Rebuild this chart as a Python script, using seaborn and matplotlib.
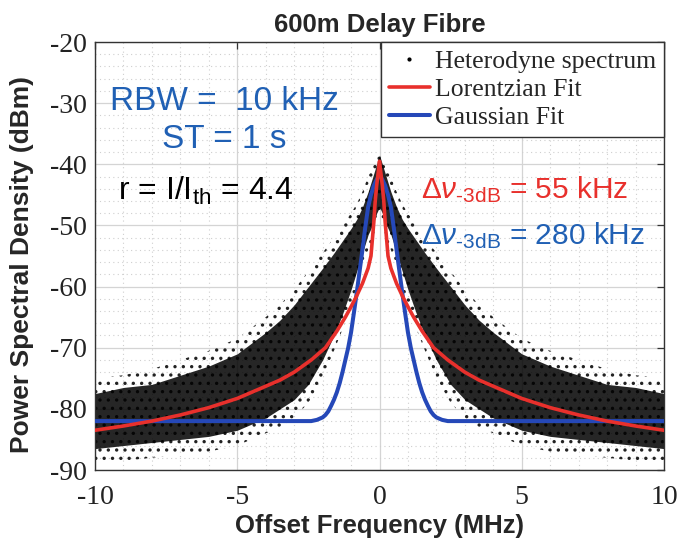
import matplotlib
matplotlib.use("Agg")
import matplotlib.pyplot as plt
import numpy as np
import seaborn as sns
from matplotlib.lines import Line2D
from matplotlib.ticker import MultipleLocator

# values, positive offsets only (trace is symmetric)
cloud_x = [0, 0.1, 0.2, 0.3, 0.4, 0.6, 0.8, 1.0, 1.3, 1.6, 2.0, 2.5, 3.0, 3.5, 4.0, 5.0, 6.0, 7.0, 8.0, 9.0, 10]
cloud_hi = [-38.5, -40, -41.5, -43, -44.5, -47, -49, -50.5, -52.5, -54.5, -57, -60, -63, -65.5, -67.5, -71, -73, -74.5, -76, -76.5, -77.5]
cloud_lo = [-47, -48, -49.5, -50.5, -51.5, -54.5, -57.5, -60.5, -64.5, -68, -72, -76, -78.5, -80, -81.5, -83.5, -84.5, -85, -85.5, -86, -86.5]
sparse_hi = [-37, -38.5, -40, -41, -42, -44.5, -46.5, -48, -50, -52, -54.5, -57.5, -60.5, -63, -65, -68.5, -70.5, -72, -73.5, -74.5, -75]
sparse_lo = [-49, -50, -51.5, -53, -54, -57, -60, -63, -67, -70.5, -75, -79, -81.5, -83, -84, -86, -87, -87.5, -88, -88.5, -89]

lor_x = [0, 0.05, 0.1, 0.15, 0.2, 0.3, 0.4, 0.6, 0.8, 1.0, 1.2, 1.5, 1.9, 2.4, 3.0, 3.5, 4.0, 5.0, 6.0, 7.0, 7.5, 8.0, 9.0, 10]
lor_y = [-39.5, -41.5, -43.5, -46, -49.5, -55, -57, -59.5, -61.5, -63.3, -65, -67.3, -70, -72, -74, -75.3, -76.3, -78.3, -79.8, -81, -81.5, -82, -82.8, -83.5]

gau_x = [0, 0.1, 0.2, 0.3, 0.4, 0.5, 0.6, 0.7, 0.8, 0.9, 1.0, 1.1, 1.2, 1.3, 1.4, 1.5, 1.6, 1.7, 1.8, 1.9, 2.0, 2.2, 2.4, 3, 10]
gau_y = [-41.8, -42.5, -43.5, -45, -47, -50.3, -54, -57.5, -61, -64.3, -67.5, -70, -72, -74, -75.8, -77.3, -78.5, -79.5, -80.4, -81, -81.4, -81.8, -82, -82, -82]

x_ticks = [-10, -5, 0, 5, 10]
y_ticks = [-90, -80, -70, -60, -50, -40, -30, -20]


def mirror(x, y):
    x = np.asarray(x, float)
    y = np.asarray(y, float)
    return np.concatenate([-x[::-1], x[1:]]), np.concatenate([y[::-1], y[1:]])


sns.set_theme(style="white")
plt.rcParams["font.family"] = ["Liberation Sans", "DejaVu Sans"]
plt.rcParams["mathtext.fontset"] = "custom"
plt.rcParams["mathtext.rm"] = "Liberation Sans"
plt.rcParams["mathtext.it"] = "Liberation Sans:italic"
plt.rcParams["mathtext.bf"] = "Liberation Sans:bold"
plt.rcParams["axes.unicode_minus"] = False
plt.rcParams["hatch.linewidth"] = 1.2

red = "#e8302c"
blue = "#2548b8"
txt_blue = "#2060b4"

fig = plt.figure(figsize=(6.96, 5.46), dpi=100)
ax = fig.add_axes([95 / 696, 1 - 470 / 546, (664 - 95) / 696, (470 - 42) / 546])

cx, chi = mirror(cloud_x, cloud_hi)
_, clo = mirror(cloud_x, cloud_lo)
_, shi = mirror(cloud_x, sparse_hi)
_, slo = mirror(cloud_x, sparse_lo)
ax.fill_between(cx, slo, shi, facecolor="none", edgecolor="#222222", hatch="..", lw=0, zorder=2)
ax.fill_between(cx, clo, chi, color="black", alpha=0.85, lw=0, zorder=2)

lx, ly = mirror(lor_x, lor_y)
gx, gy = mirror(gau_x, gau_y)
sns.lineplot(x=lx, y=ly, ax=ax, color=red, lw=2.6, zorder=4, legend=False)
sns.lineplot(x=gx, y=gy, ax=ax, color=blue, lw=2.9, zorder=3, legend=False)

ax.set_xlim(-10, 10)
ax.set_ylim(-90, -20)
ax.set_xticks(x_ticks)
ax.set_yticks(y_ticks)
ax.xaxis.set_minor_locator(MultipleLocator(1))
ax.yaxis.set_minor_locator(MultipleLocator(2))
ax.grid(which="major", color="#d4d4d4", lw=0.9, zorder=0)
ax.grid(which="minor", color="#cfcfcf", lw=0.8, ls=(0, (1, 3)), zorder=0)
ax.set_axisbelow(True)
ax.tick_params(which="major", direction="in", length=5, width=0.9, color="#333333",
               top=True, right=True, labelsize=20)
ax.tick_params(axis="x", which="major", pad=11)
ax.tick_params(axis="y", which="major", pad=6)
ax.tick_params(which="minor", length=0)
for lab in ax.get_xticklabels() + ax.get_yticklabels():
    lab.set_family("Liberation Serif")
    lab.set_color("#222222")
for sp in ax.spines.values():
    sp.set_color("#333333")
    sp.set_linewidth(1.0)

ax.set_title("600m Delay Fibre", fontsize=18.5, fontweight="bold", pad=7)
ax.set_xlabel("Offset Frequency (MHz)", fontsize=18.5, fontweight="bold")
ax.set_ylabel("Power Spectral Density (dBm)", fontsize=19, fontweight="bold")
ax.xaxis.set_label_coords(0.5, -0.103)
ax.yaxis.set_label_coords(-0.107, 0.48)

hy = "\u2010"
ax.text(-5.45, -31.1, "RBW =  10 kHz", color=txt_blue, fontsize=24, ha="center", va="baseline")
ax.text(-5.45, -37.3, "ST = 1 s", color=txt_blue, fontsize=24, ha="center", va="baseline")
ax.text(-9.2, -45.8, r"r = I/I$_{\mathrm{th}}$ = 4.4", color="black", fontsize=23, ha="left", va="baseline")
ax.text(1.45, -45.5, r"$\Delta\nu_{\mathrm{" + hy + r"3dB}}$ = 55 kHz", color=red, fontsize=21.5,
        ha="left", va="baseline")
ax.text(1.45, -53.0, r"$\Delta\nu_{\mathrm{" + hy + r"3dB}}$ = 280 kHz", color=txt_blue, fontsize=21.5,
        ha="left", va="baseline")

handles = [
    Line2D([], [], ls="none", marker=".", markersize=4, color="black"),
    Line2D([], [], color=red, lw=2.6),
    Line2D([], [], color=blue, lw=2.9),
]
leg = ax.legend(handles, ["Heterodyne spectrum", "Lorentzian Fit", "Gaussian Fit"],
                loc="upper right", borderaxespad=0, frameon=True, fancybox=False,
                prop={"family": "Liberation Serif", "size": 18.5},
                handlelength=1.6, handletextpad=0.2, borderpad=0.3, labelspacing=0.2)
leg.get_frame().set_edgecolor("#333333")
leg.get_frame().set_linewidth(1.0)
leg.get_frame().set_alpha(1)

fig.savefig("out.png", dpi=100)
